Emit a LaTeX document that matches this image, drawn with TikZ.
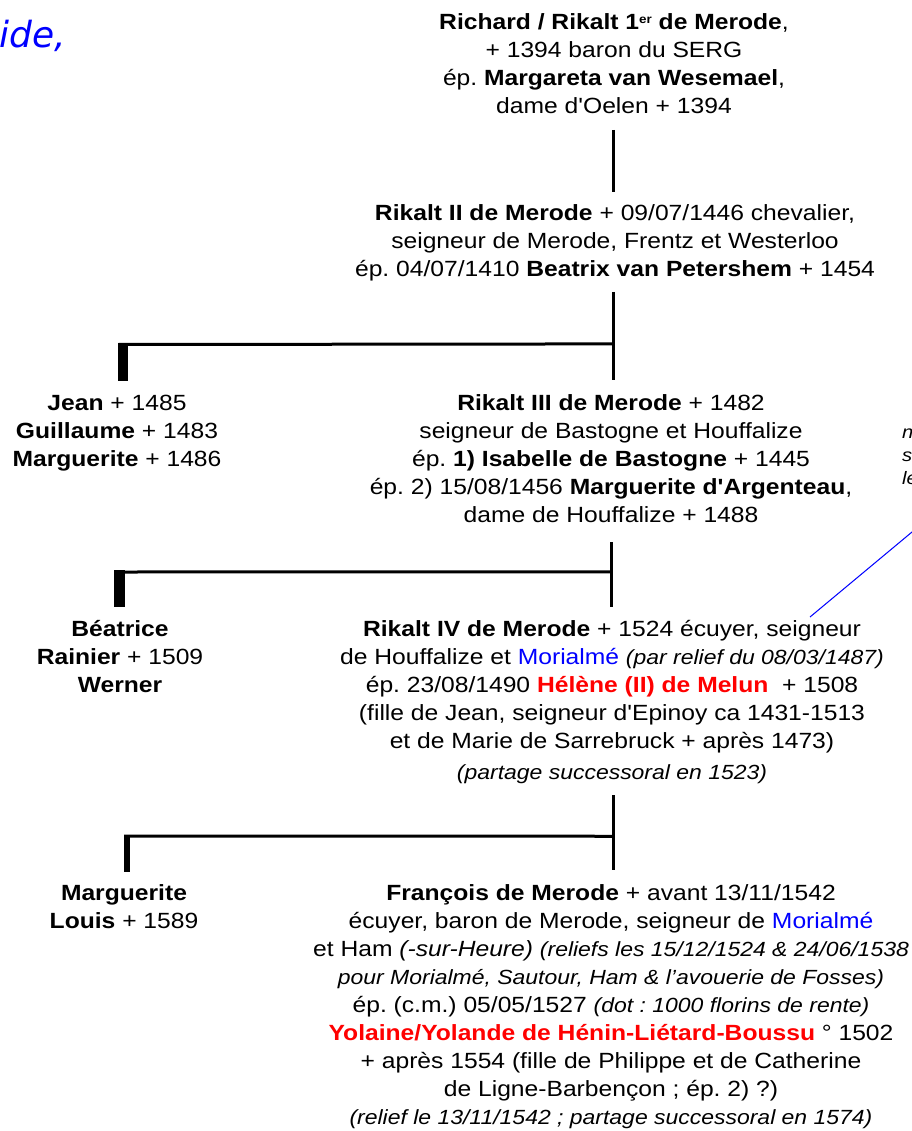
\documentclass[tikz,border=0pt]{standalone}
\usepackage{fontspec}
\setmainfont{Liberation Sans}[FakeStretch=1.12, Ligatures=TeXOff]
\newfontfamily\titlefont{DejaVu Sans}
\usetikzlibrary{calc}
\frenchspacing

\newcommand{\remark}[1]{{\itshape\fontsize{20.5}{28}\selectfont #1}}
\newcommand{\ordinal}[1]{\raisebox{6.5pt}{\fontsize{12}{12}\selectfont #1}}

\begin{document}
\begin{tikzpicture}[x=1pt, y=-1pt, person/.style={align=center, anchor=base, inner sep=0pt, font=\fontsize{22}{28}\selectfont}, link/.style={line width=3pt}, stub/.style={line width=10pt}]
\useasboundingbox (0, 0) rectangle (911, 1131);

\coordinate (G1a) at (613, 130);
\coordinate (G1b) at (613, 192);
\coordinate (G2a) at (613, 292);
\coordinate (G2b) at (613, 380);
\coordinate (G3a) at (611, 542);
\coordinate (G3b) at (611, 607);
\coordinate (G4a) at (613, 795);
\coordinate (G4b) at (613, 870);
\coordinate (pin) at (810, 617);
\coordinate (aside) at (930, 517);

% base anchor sits on the last line of each block
\node[anchor=base east, inner sep=0pt, text=blue, font=\titlefont\itshape\fontsize{36}{40}\selectfont] (heading) at (66, 48) {ide,};
\node[anchor=base west, align=left, inner sep=0pt, font=\itshape\fontsize{18}{23}\selectfont] (aside note) at (902, 484) {n\\s\\le};

\node[person] (richard) at (614, 114) {\textbf{Richard / Rikalt 1\ordinal{er} de Merode}, \\ + 1394 baron du SERG \\ ép. \textbf{Margareta van Wesemael}, \\ dame d'Oelen + 1394};
\node[person] (rikalt2) at (615, 277) {\textbf{Rikalt II de Merode} + 09/07/1446 chevalier, \\ seigneur de Merode, Frentz et Westerloo \\ ép. 04/07/1410 \textbf{Beatrix van Petershem} + 1454};
\node[person] (jean) at (117, 466) {\textbf{Jean} + 1485 \\ \textbf{Guillaume} + 1483 \\ \textbf{Marguerite} + 1486};
\node[person] (rikalt3) at (611, 522) {\textbf{Rikalt III de Merode} + 1482 \\ seigneur de Bastogne et Houffalize \\ ép. \textbf{1) Isabelle de Bastogne} + 1445 \\ ép. 2) 15/08/1456 \textbf{Marguerite d'Argenteau}, \\ dame de Houffalize + 1488};
\node[person] (beatrice) at (120, 692) {\textbf{Béatrice} \\ \textbf{Rainier} + 1509 \\ \textbf{Werner}};
\node[person] (rikalt4) at (612, 779) {\textbf{Rikalt IV de Merode} + 1524 écuyer, seigneur \\ de Houffalize et \textcolor{blue}{Morialmé} \remark{(par relief du 08/03/1487)} \\ ép. 23/08/1490 \textcolor{red}{\textbf{Hélène (II) de Melun}}\ \ + 1508 \\ (fille de Jean, seigneur d'Epinoy ca 1431-1513 \\ et de Marie de Sarrebruck + après 1473) \\[3pt] \remark{(partage successoral en 1523)}};
\node[person] (marguerite) at (124, 928) {\textbf{Marguerite} \\ \textbf{Louis} + 1589};
\node[person] (francois) at (611, 1124) {\textbf{François de Merode} + avant 13/11/1542 \\ écuyer, baron de Merode, seigneur de \textcolor{blue}{Morialmé} \\ et Ham \textit{(-sur-Heure)} \remark{(reliefs les 15/12/1524 \& 24/06/1538} \\ \remark{pour Morialmé, Sautour, Ham \& l’avouerie de Fosses)} \\ ép. (c.m.) 05/05/1527 \remark{(dot : 1000 florins de rente)} \\ \textcolor{red}{\textbf{Yolaine/Yolande de Hénin-Liétard-Boussu}} ° 1502 \\ + après 1554 (fille de Philippe et de Catherine \\ de Ligne-Barbençon ; ép. 2) ?) \\ \remark{(relief le 13/11/1542 ; partage successoral en 1574)}};

\draw[link] (G1a) -- (G1b);
\draw[link] (G2a) -- (G2b);
\draw[link] ($(G2a)!0.59!(G2b)$) -- (118, 344.5);
\draw[stub] (123, 343) -- (123, 381);
\draw[link] (G3a) -- (G3b);
\draw[link] ($(G3a)!0.46!(G3b)$) -- (114, 572);
\draw[stub, line width=11pt] (119.5, 570) -- (119.5, 607);
\draw[link] (G4a) -- (G4b);
\draw[link] ($(G4a)!0.55!(G4b)$) -- (124, 836);
\draw[stub, line width=6pt] (127, 835) -- (127, 872);
%\draw[blue] (pin) -- (aside note.west);
\draw[blue, line width=1pt] (pin) -- (aside);
\end{tikzpicture}
\end{document}
